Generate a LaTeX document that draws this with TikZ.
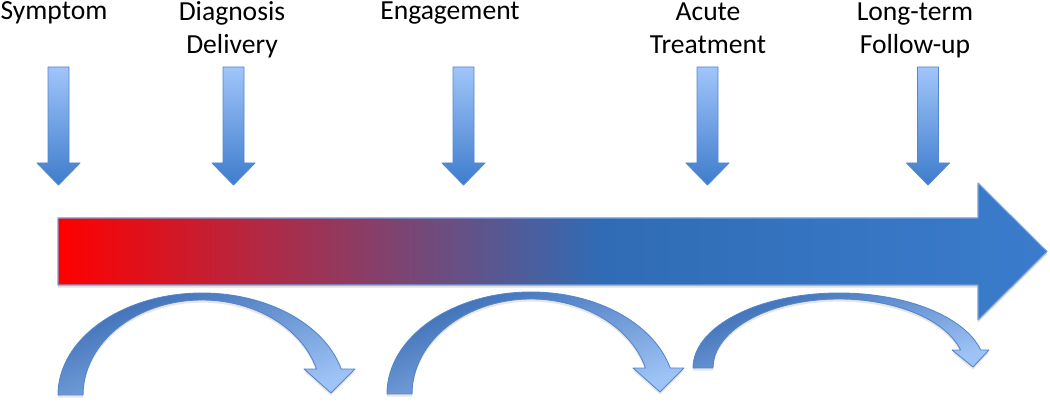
\documentclass[tikz,border=0pt]{standalone}
\usepackage{fontspec}
\setmainfont{Carlito}
\usetikzlibrary{shadows}

\definecolor{tlred}{RGB}{255,0,0}
\definecolor{tlblue}{RGB}{48,108,181}
\definecolor{tlblueend}{RGB}{58,124,204}
\definecolor{tledge}{RGB}{120,160,215}
\definecolor{droplight}{RGB}{160,197,250}
\definecolor{dropdark}{RGB}{62,124,204}
\definecolor{dropedge}{RGB}{84,134,204}
\definecolor{loopdark}{RGB}{56,106,178}
\definecolor{looplight}{RGB}{158,195,246}

\pgfdeclarehorizontalshading{timeline}{100bp}{color(0bp)=(tlred); color(25bp)=(tlred); color(52.5bp)=(tlblue); color(75bp)=(tlblueend); color(100bp)=(tlblueend)}

\tikzset{
	stagelabel/.style={font=\fontsize{15.7}{19.3}\selectfont, align=center, inner sep=0pt, anchor=base},
	dropbox/.style={draw=dropedge, line width=0.5pt, top color=droplight, bottom color=dropdark},
	bigarrow/.style={draw=tledge, line width=0.6pt, shading=timeline,
		drop shadow={opacity=0.25, shadow xshift=0pt, shadow yshift=-1.5pt}},
	loopback/.style={draw=dropedge, line width=0.5pt, top color=loopdark, bottom color=looplight, shading angle=20,
		drop shadow={opacity=0.2, shadow xshift=0pt, shadow yshift=-1.5pt}}
}

% block arrow pointing down onto the timeline, #1 = centre x
\newcommand{\blockdown}[1]{%
	\draw[dropbox] (#1-10.5,335) -- (#1+10.5,335) -- (#1+10.5,239) -- (#1+21.5,239)
		-- (#1,217) -- (#1-21.5,239) -- (#1-10.5,239) -- cycle;}

\begin{document}
\begin{tikzpicture}[x=0.02cm, y=0.02cm, line join=round]
	\useasboundingbox (0,0) rectangle (1050,402);

	% stages (base = last line)
	\node[stagelabel] (symptom) at (54,382) {Symptom};
	\node[stagelabel] (diagnosis) at (232,348) {Diagnosis\\Delivery};
	\node[stagelabel] (engagement) at (450,382) {Engagement};
	\node[stagelabel] (acute) at (708,348) {Acute\\Treatment};
	\node[stagelabel] (longterm) at (915,348) {Long-term\\Follow-up};

	\blockdown{58.5}
	\blockdown{233.5}
	\blockdown{463.5}
	\blockdown{707.5}
	\blockdown{928}

	% timeline
	\draw[bigarrow] (58,117) -- (978,117) -- (978,82) -- (1047,150.5) -- (978,219)
		-- (978,184) -- (58,184) -- cycle;

	% curved arrows below
	\draw[loopback] (58,7) arc[start angle=180, end angle=14.77, x radius=144, y radius=102]
		-- (355,33) -- (331,9) -- (304,33) -- (316.5,33)
		arc[start angle=15.88, end angle=180, x radius=119, y radius=95] -- cycle;
	\draw[loopback] (387,8) arc[start angle=180, end angle=14.77, x radius=144, y radius=102]
		-- (684,34) -- (660,10) -- (633,34) -- (645.5,34)
		arc[start angle=15.88, end angle=180, x radius=119, y radius=95] -- cycle;
	\draw[loopback] (693,34) arc[start angle=180, end angle=13.89, x radius=146, y radius=75]
		-- (989,52) -- (973,35) -- (952,52) -- (960.6,52)
		arc[start angle=15.12, end angle=180, x radius=126, y radius=69] -- cycle;
\end{tikzpicture}
\end{document}
